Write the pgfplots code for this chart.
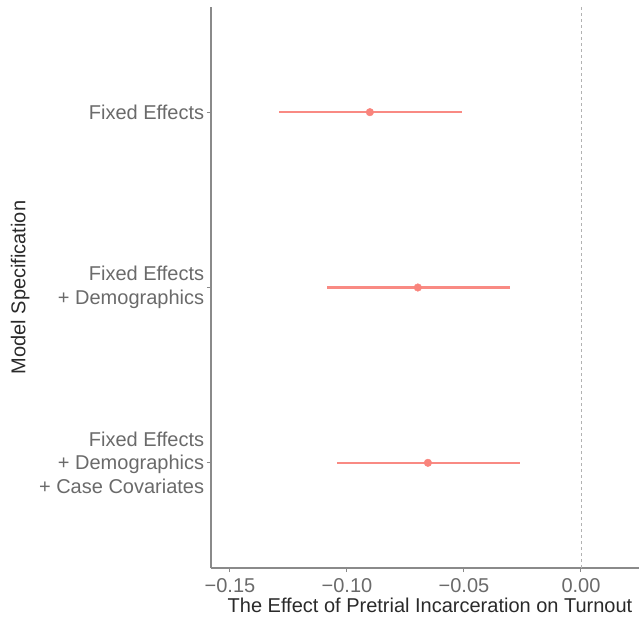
\documentclass[border=0pt]{standalone}
\usepackage{pgfplots}
\pgfplotsset{compat=1.18}
\usepackage{fontspec}
\setmainfont{Liberation Sans}
\definecolor{salmon}{HTML}{F8766D}
\definecolor{ticktxt}{HTML}{6A6A6A}
\definecolor{axtitle}{HTML}{2A2A2A}
\definecolor{axline}{HTML}{8A8A8A}
\begin{document}
\begin{tikzpicture}
\fontsize{20}{23.5}\selectfont
\begin{axis}[
  scale only axis,
  width=428pt, height=561pt,
  xmin=-0.1581, xmax=0.0248,
  ymin=0.4, ymax=3.6,
  axis x line*=bottom, axis y line*=left,
  axis line style={axline, line width=1.3pt, -},
  xtick={-0.15,-0.10,-0.05,0},
  xticklabels={−0.15,−0.10,−0.05,0.00},
  ytick={1,2,3},
  yticklabels={{Fixed Effects\\+ Demographics\\+ Case Covariates},{Fixed Effects\\+ Demographics},{Fixed Effects}},
  yticklabel style={align=right, font=\fontsize{20}{23.5}\selectfont, text=ticktxt, xshift=4pt},
  xticklabel style={font=\fontsize{20}{23.5}\selectfont, text=ticktxt},
  tick style={axline, line width=1pt},
  major tick length=4pt,
  tick align=outside,
  xlabel={The Effect of Pretrial Incarceration on Turnout},
  ylabel={Model Specification},
  xlabel style={font=\fontsize{20}{23.5}\selectfont, text=axtitle, yshift=9pt, xshift=5pt},
  ylabel style={font=\fontsize{20}{23.5}\selectfont, text=axtitle, yshift=-4pt},
  clip=false,
]
\addplot[gray!60, dashed, line width=0.9pt] coordinates {(0,0.4) (0,3.6)};
% confidence intervals
\addplot[salmon!85!white, line width=2.2pt] coordinates {(-0.1290,3) (-0.0509,3)};
\addplot[salmon!85!white, line width=2.2pt] coordinates {(-0.1085,2) (-0.0303,2)};
\addplot[salmon!85!white, line width=2.2pt] coordinates {(-0.1043,1) (-0.0261,1)};
% point estimates
\addplot[only marks, mark=*, mark size=3.8pt, mark options={fill=salmon!90!white, draw=salmon!90!white}] coordinates {
  (-0.0902,3) (-0.0697,2) (-0.0654,1)
};
\end{axis}
\pgfresetboundingbox
\useasboundingbox (current axis.south west) ++(-211pt,-48pt) rectangle ++(639pt,616pt);
\end{tikzpicture}
\end{document}
